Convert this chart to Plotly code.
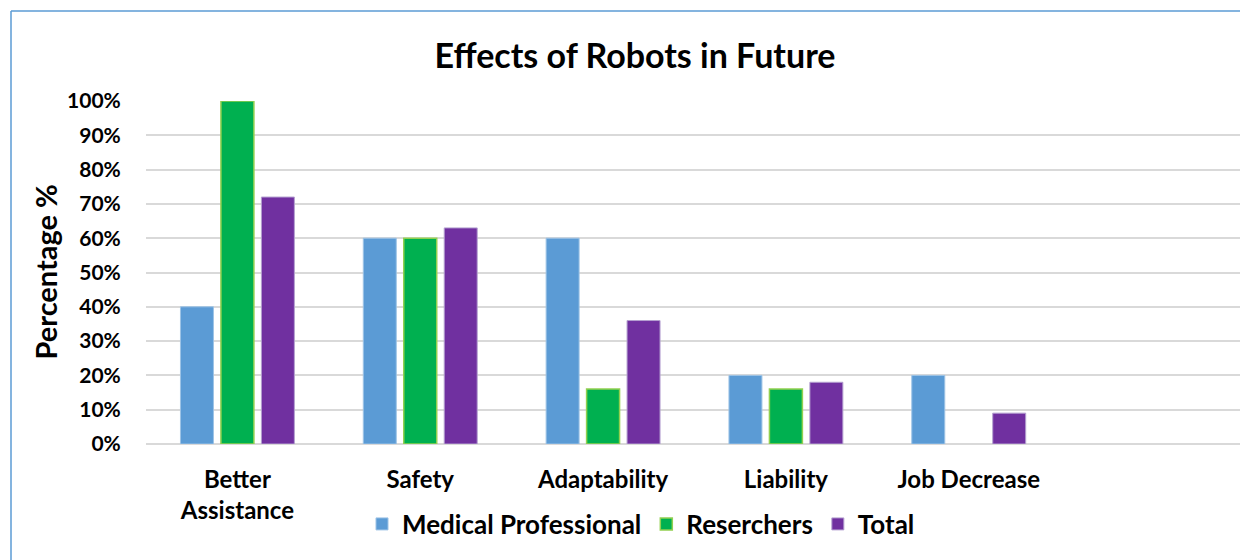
import plotly.graph_objects as go

categories = ["Better<br>Assistance", "Safety", "Adaptability", "Liability", "Job Decrease", " "]
medical = [0.40, 0.60, 0.60, 0.20, 0.20, None]
researchers = [1.00, 0.60, 0.16, 0.16, 0.00, None]
total = [0.72, 0.63, 0.36, 0.18, 0.09, None]
y_ticks = [i / 10 for i in range(11)]

FONT = "Lato"
OFF = 8  # page body margin
W, H = 1248 - OFF, 560 - OFF
L, R = 146 - OFF, 5
T, B = 101 - OFF, 560 - 444
pw, ph = W - L - R, H - T - B


def px_x(p):
    return (p - OFF - L) / pw


def px_y(p):
    return (H - B - (p - OFF)) / ph


fig = go.Figure()
fig.add_bar(name="<b>Medical Professional</b>", x=categories, y=medical,
            marker=dict(color="#5B9BD5", line=dict(color="#9DC3E6", width=1)))
fig.add_bar(name="<b>Reserchers</b>", x=categories, y=researchers,
            marker=dict(color="#00B050",
                        line=dict(color="#92D050", width=[1.5 if v else 0 for v in researchers])))
fig.add_bar(name="<b>Total</b>", x=categories, y=total,
            marker=dict(color="#7030A0", line=dict(color="#B4A0D0", width=1)))

fig.update_layout(
    width=W, height=H,
    margin=dict(l=L, r=R, t=T, b=B),
    paper_bgcolor="white", plot_bgcolor="white",
    barmode="group", bargap=0.336, bargroupgap=0.185,
    font=dict(family=FONT, color="black"),
    title=dict(text="<b>Effects of Robots in Future</b>", x=(635 - OFF) / W, xanchor="center",
               y=1 - (56 - OFF) / H, yanchor="middle", yref="container",
               font=dict(size=34, family=FONT, color="black")),
    xaxis=dict(type="category", categoryorder="array", categoryarray=categories,
               tickvals=categories,
               ticktext=["<b>" + c + "</b>" if c.strip() else c for c in categories],
               showgrid=False, showline=False, ticks="outside", ticklen=14,
               tickcolor="rgba(0,0,0,0)", tickfont=dict(size=24, family=FONT, color="black"),
               range=[-0.5, 5.5], fixedrange=True),
    yaxis=dict(range=[0, 1], tickvals=y_ticks,
               ticktext=["<b>%d%%</b>" % round(v * 100) for v in y_ticks],
               showgrid=True, gridcolor="#D9D9D9", gridwidth=1.5,
               zeroline=True, zerolinecolor="#D9D9D9", zerolinewidth=1.5,
               ticks="outside", ticklen=20, tickcolor="rgba(0,0,0,0)",
               tickfont=dict(size=21, family=FONT, color="black"), fixedrange=True),
    legend=dict(orientation="h", x=px_x(641), xanchor="center", y=px_y(524), yanchor="middle",
                font=dict(size=26, family=FONT, color="black"), traceorder="normal",
                itemclick=False, itemdoubleclick=False),
    showlegend=True,
)

fig.add_annotation(text="<b>Percentage %</b>", textangle=-90, xref="paper", yref="paper",
                   x=px_x(45), y=0.5, xanchor="center", yanchor="middle", showarrow=False,
                   font=dict(size=29, family=FONT, color="black"))

# chart border (cropped on right and bottom)
fig.add_shape(type="line", xref="paper", yref="paper", x0=px_x(11), x1=px_x(1270),
              y0=px_y(11), y1=px_y(11), line=dict(color="#5B9BD5", width=1.5))
fig.add_shape(type="line", xref="paper", yref="paper", x0=px_x(11), x1=px_x(11),
              y0=px_y(11), y1=px_y(580), line=dict(color="#5B9BD5", width=1.5))

fig.write_html("out.html", config={"displayModeBar": False})
